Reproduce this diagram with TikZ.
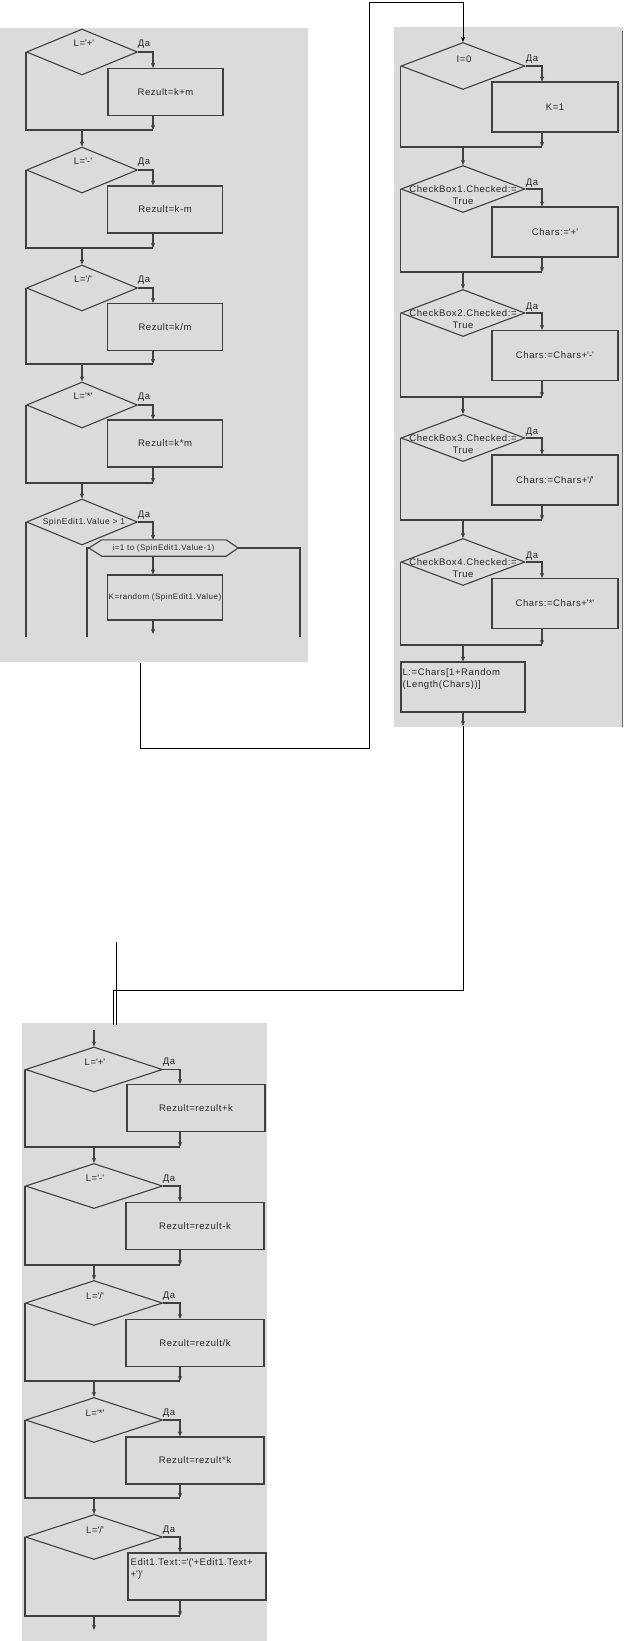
\documentclass[tikz,border=0pt]{standalone}
\usepackage{fontspec}
\setmainfont{Liberation Sans}[LetterSpace=6]
\usetikzlibrary{shapes.geometric,arrows.meta}
\newcommand{\tq}{\textquotesingle}
\begin{document}
\begin{tikzpicture}[x=1pt,y=-1pt,
  >={Stealth[length=5pt,width=4.2pt]},
  flow/.style={draw=black!75,line width=1.1pt},
  link/.style={draw=black,line width=0.9pt},
  panel/.style={fill=black!14},
  word/.style={inner sep=0pt,font=\fontsize{9.5}{11.5}\selectfont,text=black!85,align=center},
  cond/.style={flow,shape=diamond,inner sep=0pt},
  condA/.style={cond,minimum width=111pt,minimum height=46pt},
  condB/.style={cond,minimum width=124pt,minimum height=47pt},
  condC/.style={cond,minimum width=137pt,minimum height=45pt},
  act/.style={flow,rectangle,inner sep=1pt,font=\fontsize{9.5}{11.5}\selectfont,text=black!85},
  actA/.style={act,minimum width=115pt,minimum height=47pt},
  actB/.style={act,minimum width=126pt,minimum height=50pt},
  actC/.style={act,minimum width=138pt,minimum height=47pt}]
\useasboundingbox (0,0) rectangle (625,1641);
%
\fill[panel] (0,28) rectangle (308,662);
\fill[panel] (394,27) rectangle (623,727);
\draw[draw=black!60,line width=0.9pt] (622,31) -- (622,727);
\fill[panel] (22,1023) rectangle (267,1641);
%
\node[condA](c1) at (82,52) {};
\node[word](c1t) at (84,43) {L=\tq+\tq};
\node[word](c1y) at (144,44) {Да};
\node[actA](b1) at (165.5,92) {Rezult=k+m};
\coordinate(m1) at (153,130);
\draw[flow,->](c1.east) -| (b1.north -| m1) {};
\draw[flow,->](b1.south -| m1) -- (m1) {};
\draw[flow](c1.west) |- (m1) {};
%
\node[condA](c2) at (82,170) {};
\node[word](c2t) at (83,161) {L=\tq-\tq};
\node[word](c2y) at (144,162) {Да};
\node[actA](b2) at (165,209.5) {Rezult=k-m};
\coordinate(m2) at (153,248);
\draw[flow,->](m1 -| c2) -- (c2.north) {};
\draw[flow,->](c2.east) -| (b2.north -| m2) {};
\draw[flow,->](b2.south -| m2) -- (m2) {};
\draw[flow](c2.west) |- (m2) {};
%
\node[condA](c3) at (82,288) {};
\node[word](c3t) at (83,279) {L=\tq/\tq};
\node[word](c3y) at (144,280) {Да};
\node[actA](b3) at (165,327) {Rezult=k/m};
\coordinate(m3) at (153,364);
\draw[flow,->](m2 -| c3) -- (c3.north) {};
\draw[flow,->](c3.east) -| (b3.north -| m3) {};
\draw[flow,->](b3.south -| m3) -- (m3) {};
\draw[flow](c3.west) |- (m3) {};
%
\node[condA](c4) at (82,405) {};
\node[word](c4t) at (83,396) {L=\tq*\tq};
\node[word](c4y) at (144,397) {Да};
\node[actA](b4) at (165,443.5) {Rezult=k*m};
\coordinate(m4) at (153,483);
\draw[flow,->](m3 -| c4) -- (c4.north) {};
\draw[flow,->](c4.east) -| (b4.north -| m4) {};
\draw[flow,->](b4.south -| m4) -- (m4) {};
\draw[flow](c4.west) |- (m4) {};
%
\node[condA](c5) at (82,522) {};
\node[word,font=\fontsize{8.5}{10}\selectfont](c5t) at (84,522) {SpinEdit1.Value > 1};
\node[word](c5y) at (144,515) {Да};
\draw[flow,->](m4 -| c5) -- (c5.north) {};
%
\node[word,font=\fontsize{8}{10}\selectfont,minimum width=149pt,minimum height=16pt](h5) at (163.5,548) {i=1 to (SpinEdit1.Value-1)};
\draw[flow](h5.west) -- ([xshift=13pt]h5.north west) -- ([xshift=-12pt]h5.north east) -- (h5.east) -- ([xshift=-12pt]h5.south east) -- ([xshift=13pt]h5.south west) -- cycle;
\node[actA,minimum height=45pt,font=\fontsize{8}{10}\selectfont](b5) at (165,597.5) {K=random (SpinEdit1.Value)};
\coordinate(e5) at (153,634);
\coordinate(l5) at (87,637);
\coordinate(r5) at (300,637);
\draw[flow,->](c5.east) -| (h5.north -| e5) {};
\draw[flow,->](h5.south -| e5) -- (b5.north -| e5) {};
\draw[flow,->](b5.south -| e5) -- (e5) {};
\draw[flow](h5.west) -| (l5) {};
\draw[flow](h5.east) -| (r5) {};
\draw[flow](c5.west) -- (c5.west |- l5) {};
%
\node[condB](cA) at (463,66) {};
\node[word](cAt) at (464,59) {I=0};
\node[word](cAy) at (532,59) {Да};
\node[actB](bA) at (555,107) {K=1};
\coordinate(mA) at (542,147);
\draw[flow,->](cA.east) -| (bA.north -| mA) {};
\draw[flow,->](bA.south -| mA) -- (mA) {};
\draw[flow](cA.west) |- (mA) {};
%
\coordinate(p1) at (140,663);
\coordinate(q1) at (369,748);
\coordinate(q2) at (369,2);
\draw[link,->](p1) |- (q1) -- (q2) -| (cA.north) {};
%
\node[condB](cB) at (463,189) {};
\node[word](cBt) at (463,195) {CheckBox1.Checked:=\\True};
\node[word](cBy) at (532,183) {Да};
\node[actB](bB) at (555,232) {Chars:=\tq+\tq};
\coordinate(mB) at (542,272);
\draw[flow,->](mA -| cB) -- (cB.north) {};
\draw[flow,->](cB.east) -| (bB.north -| mB) {};
\draw[flow,->](bB.south -| mB) -- (mB) {};
\draw[flow](cB.west) |- (mB) {};
%
\node[condB](cC) at (463,313) {};
\node[word](cCt) at (463,319) {CheckBox2.Checked:=\\True};
\node[word](cCy) at (532,307) {Да};
\node[actB](bC) at (555,355.5) {Chars:=Chars+\tq-\tq};
\coordinate(mC) at (542,397);
\draw[flow,->](mB -| cC) -- (cC.north) {};
\draw[flow,->](cC.east) -| (bC.north -| mC) {};
\draw[flow,->](bC.south -| mC) -- (mC) {};
\draw[flow](cC.west) |- (mC) {};
%
\node[condB](cD) at (463,438) {};
\node[word](cDt) at (463,444) {CheckBox3.Checked:=\\True};
\node[word](cDy) at (532,432) {Да};
\node[actB](bD) at (555,480) {Chars:=Chars+\tq/\tq};
\coordinate(mD) at (542,520);
\draw[flow,->](mC -| cD) -- (cD.north) {};
\draw[flow,->](cD.east) -| (bD.north -| mD) {};
\draw[flow,->](bD.south -| mD) -- (mD) {};
\draw[flow](cD.west) |- (mD) {};
%
\node[condB](cE) at (463,562) {};
\node[word](cEt) at (463,568) {CheckBox4.Checked:=\\True};
\node[word](cEy) at (532,556) {Да};
\node[actB](bE) at (555,603.5) {Chars:=Chars+\tq*\tq};
\coordinate(mE) at (542,645);
\draw[flow,->](mD -| cE) -- (cE.north) {};
\draw[flow,->](cE.east) -| (bE.north -| mE) {};
\draw[flow,->](bE.south -| mE) -- (mE) {};
\draw[flow](cE.west) |- (mE) {};
%
\node[actB,minimum width=124pt](bF) at (463,687) {};
\node[word,anchor=north west,align=left](bFt) at ([shift={(2pt,-7pt)}]bF.north west) {L:=Chars[1+Random\\(Length(Chars))]};
\coordinate(eF) at (463,726);
\draw[flow,->](mE -| bF) -- (bF.north) {};
\draw[flow,->](bF) -- (eF) {};
%
\coordinate(q4) at (463,990);
\coordinate(q3) at (113,1025);
\draw[link](eF) -- (q4) -| (q3) {};
\coordinate(s1) at (116,942);
\coordinate(s2) at (116,1025);
\draw[link](s1) -- (s2) {};
%
\coordinate(a0) at (94,1030);
\node[condC](k1) at (94,1069.5) {};
\node[word](k1t) at (95,1062) {L=\tq+\tq};
\node[word](k1y) at (169,1062) {Да};
\node[actC](g1) at (196,1108) {Rezult=rezult+k};
\coordinate(n1) at (180,1147);
\draw[flow,->](a0) -- (k1.north) {};
\draw[flow,->](k1.east) -| (g1.north -| n1) {};
\draw[flow,->](g1.south -| n1) -- (n1) {};
\draw[flow](k1.west) |- (n1) {};
%
\node[condC](k2) at (94,1186) {};
\node[word](k2t) at (95,1178) {L=\tq-\tq};
\node[word](k2y) at (169,1179) {Да};
\node[actC](g2) at (195,1226) {Rezult=rezult-k};
\coordinate(n2) at (180,1265);
\draw[flow,->](n1 -| k2) -- (k2.north) {};
\draw[flow,->](k2.east) -| (g2.north -| n2) {};
\draw[flow,->](g2.south -| n2) -- (n2) {};
\draw[flow](k2.west) |- (n2) {};
%
\node[condC](k3) at (94,1303) {};
\node[word](k3t) at (95,1296) {L=\tq/\tq};
\node[word](k3y) at (169,1296) {Да};
\node[actC](g3) at (195,1343) {Rezult=rezult/k};
\coordinate(n3) at (180,1381);
\draw[flow,->](n2 -| k3) -- (k3.north) {};
\draw[flow,->](k3.east) -| (g3.north -| n3) {};
\draw[flow,->](g3.south -| n3) -- (n3) {};
\draw[flow](k3.west) |- (n3) {};
%
\node[condC](k4) at (94,1420) {};
\node[word](k4t) at (95,1413) {L=\tq*\tq};
\node[word](k4y) at (169,1413) {Да};
\node[actC](g4) at (195,1460.5) {Rezult=rezult*k};
\coordinate(n4) at (180,1498);
\draw[flow,->](n3 -| k4) -- (k4.north) {};
\draw[flow,->](k4.east) -| (g4.north -| n4) {};
\draw[flow,->](g4.south -| n4) -- (n4) {};
\draw[flow](k4.west) |- (n4) {};
%
\node[condC](k5) at (94,1537) {};
\node[word](k5t) at (95,1530) {L=\tq/\tq};
\node[word](k5y) at (169,1530) {Да};
\node[actC](g5) at (197,1576.5) {};
\node[word,anchor=north west,align=left](g5t) at ([shift={(3pt,-6pt)}]g5.north west) {Edit1.Text:=\tq(\tq+Edit1.Text+\\+\tq)\tq};
\coordinate(n5) at (180,1616);
\coordinate(z5) at (94,1630);
\draw[flow,->](n4 -| k5) -- (k5.north) {};
\draw[flow,->](k5.east) -| (g5.north -| n5) {};
\draw[flow,->](g5.south -| n5) -- (n5) {};
\draw[flow](k5.west) |- (n5) {};
\draw[flow,->](n5 -| k5) -- (z5) {};
\end{tikzpicture}
\end{document}
